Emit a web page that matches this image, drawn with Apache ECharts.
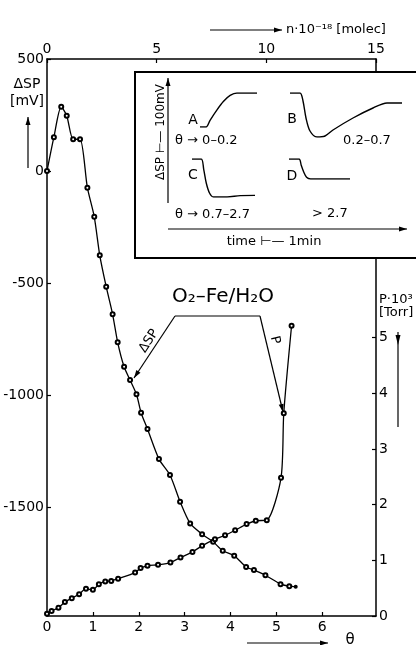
<!DOCTYPE html>
<html lang="en">
<head>
  <meta charset="UTF-8">
  <title>O2-Fe/H2O</title>
  <script src="https://cdn.jsdelivr.net/npm/echarts@6/dist/echarts.min.js"></script>
  <style>
    * { margin: 0; padding: 0; }
    body { background: #fff; }
    #main { width: 416px; height: 645px; }
  </style>
</head>
<body>
  <div id="main"></div>
  <script>
    // main curves, theta = coverage
    var dspTheta = [0, 0.15, 0.31, 0.43, 0.57, 0.72, 0.88, 1.03, 1.15, 1.29, 1.43, 1.54, 1.68, 1.81, 1.95, 2.05, 2.19, 2.44, 2.68, 2.90, 3.12, 3.38, 3.62, 3.83, 4.08, 4.34, 4.51, 4.76, 5.09, 5.28, 5.42]
    var dspValues = [0, 151, 287, 247, 142, 142, -74, -204, -376, -516, -639, -764, -873, -932, -996, -1078, -1151, -1285, -1356, -1475, -1572, -1620, -1654, -1694, -1716, -1766, -1780, -1803, -1843, -1852, -1855]

    var pTheta = [0, 0.10, 0.25, 0.39, 0.54, 0.70, 0.85, 1.00, 1.13, 1.27, 1.40, 1.55, 1.92, 2.04, 2.19, 2.42, 2.69, 2.91, 3.17, 3.38, 3.66, 3.88, 4.10, 4.35, 4.55, 4.79, 5.10, 5.16, 5.33]
    var pValues = [0.04, 0.09, 0.15, 0.25, 0.32, 0.39, 0.49, 0.47, 0.57, 0.62, 0.63, 0.67, 0.78, 0.86, 0.90, 0.92, 0.96, 1.05, 1.15, 1.26, 1.38, 1.45, 1.54, 1.65, 1.71, 1.72, 2.48, 3.64, 5.21]

    // tick labels
    var thetaTicks = [0, 1, 2, 3, 4, 5, 6]
    var dspTicks = [500, 0, -500, -1000, -1500]
    var pTicks = [0, 1, 2, 3, 4, 5]

    // inset transients: time [s], dSP [mV]
    var curveA_t = [0, 24, 40, 67, 93, 120, 147, 227]
    var curveA_mv = [0, 0, 33, 83, 125, 155, 167, 167]
    var curveB_t = [0, 40, 52, 64, 80, 108, 140, 172, 252, 332, 388, 448]
    var curveB_mv = [0, 0, -40, -125, -190, -220, -215, -185, -125, -75, -50, -50]
    var curveC_t = [0, 37, 47, 57, 70, 86, 140, 193, 252]
    var curveC_mv = [0, 0, -53, -120, -170, -190, -190, -183, -182]
    var curveD_t = [0, 40, 49, 59, 70, 86, 243]
    var curveD_mv = [0, 0, -32, -65, -90, -98, -98]

    var FONT = 'DejaVu Sans'
    var black = '#000'

    function pairs(xs, ys) {
      return xs.map(function (x, i) { return [x, ys[i]] })
    }

    function arrow(x1, y1, x2, y2, z) {
      var a = Math.atan2(y2 - y1, x2 - x1)
      var L = 8, W = 2.5
      var bx = x2 - L * Math.cos(a), by = y2 - L * Math.sin(a)
      return [
        { type: 'line', z: z, shape: { x1: x1, y1: y1, x2: x2, y2: y2 }, style: { stroke: black, lineWidth: 1.2 } },
        { type: 'polygon', z: z, shape: { points: [[x2, y2], [bx - W * Math.sin(a), by + W * Math.cos(a)], [bx + W * Math.sin(a), by - W * Math.cos(a)]] }, style: { fill: black } }
      ]
    }

    function txt(x, y, s, size, opts) {
      opts = opts || {}
      return {
        type: 'text', x: x, y: y, z: opts.z || 30, rotation: opts.rot || 0,
        style: { text: s, fontFamily: FONT, fontSize: size, fill: black, align: opts.align || 'center', verticalAlign: 'middle' }
      }
    }

    var plain = function (v) { return String(v) }
    var axisFont = { color: black, fontFamily: FONT, fontSize: 14, formatter: plain }
    var axLine = { onZero: false, lineStyle: { color: black, width: 1.5 } }
    var tick = { inside: true, length: 4, lineStyle: { color: black, width: 1.2 } }

    function hiddenAxis(grid, min, max) {
      return { type: 'value', gridIndex: grid, min: min, max: max, show: false }
    }

    var dspData = pairs(dspTheta, dspValues)
    dspData[dspData.length - 1] = { value: dspData[dspData.length - 1], symbol: 'circle' }

    var insetLine = function (grid, data) {
      return {
        type: 'line', xAxisIndex: grid + 1, yAxisIndex: grid + 1, data: data, z: 40,
        smooth: 0.3, showSymbol: false, lineStyle: { color: black, width: 1.4 }
      }
    }

    // decorations
    var graphics = []
    graphics.push({ type: 'rect', z: 10, shape: { x: 135, y: 72, width: 290, height: 186 }, style: { fill: '#fff', stroke: black, lineWidth: 2 } })
    graphics = graphics.concat(arrow(168, 203, 168, 78, 30))
    graphics = graphics.concat(arrow(168, 229, 407, 229, 30))
    graphics.push(txt(161, 132, 'ΔSP ⊢— 100mV', 12, { rot: Math.PI / 2 }))
    graphics.push(txt(274, 242, 'time ⊢— 1min', 13))
    graphics.push(txt(193, 120, 'A', 14))
    graphics.push(txt(292, 119, 'B', 14))
    graphics.push(txt(193, 175, 'C', 14))
    graphics.push(txt(292, 176, 'D', 14))
    graphics.push(txt(175, 141, 'θ → 0–0.2', 13, { align: 'left' }))
    graphics.push(txt(343, 141, '0.2–0.7', 13, { align: 'left' }))
    graphics.push(txt(175, 215, 'θ → 0.7–2.7', 13, { align: 'left' }))
    graphics.push(txt(312, 214, '> 2.7', 13, { align: 'left' }))

    graphics.push(txt(223, 297, 'O₂–Fe/H₂O', 20))
    graphics.push({ type: 'polyline', z: 30, shape: { points: [[175, 316], [260, 316]] }, style: { stroke: black, lineWidth: 1.2, fill: null } })
    graphics = graphics.concat(arrow(175, 316, 134, 378, 30))
    graphics = graphics.concat(arrow(260, 316, 283, 412, 30))
    graphics.push(txt(149, 341, 'ΔSP', 13, { rot: 57 * Math.PI / 180 }))
    graphics.push(txt(275, 340, 'P', 13, { rot: -77 * Math.PI / 180 }))

    graphics.push(txt(27, 84, 'ΔSP', 14))
    graphics.push(txt(27, 101, '[mV]', 14))
    graphics = graphics.concat(arrow(28, 168, 28, 117, 30))
    graphics.push(txt(379, 300, 'P·10³', 13, { align: 'left' }))
    graphics.push(txt(379, 313, '[Torr]', 13, { align: 'left' }))
    graphics.push({ type: 'line', z: 30, shape: { x1: 398, y1: 332, x2: 398, y2: 427 }, style: { stroke: black, lineWidth: 1.2 } })
    graphics.push({ type: 'polygon', z: 30, shape: { points: [[398, 345], [395.5, 335], [400.5, 335]] }, style: { fill: black } })
    graphics = graphics.concat(arrow(210, 30, 282, 30, 30))
    graphics.push(txt(286, 30, 'n·10⁻¹⁸ [molec]', 13, { align: 'left' }))
    graphics = graphics.concat(arrow(247, 643, 328, 643, 30))
    graphics.push(txt(350, 640, 'θ', 15))

    var chart = echarts.init(document.getElementById('main'))
    var option = {
      animation: false,
      backgroundColor: '#fff',
      grid: [
        { left: 47, right: 40, top: 59, bottom: 29 },
        { left: 200, top: 93, width: 57, height: 34 },
        { left: 290, top: 93, width: 112, height: 44 },
        { left: 192, top: 159, width: 63, height: 38 },
        { left: 289, top: 159, width: 61, height: 20 }
      ],
      xAxis: [
        {
          type: 'value', gridIndex: 0, position: 'bottom', min: 0, max: 7.17,
          axisLine: axLine, axisTick: Object.assign({ customValues: thetaTicks }, tick),
          axisLabel: Object.assign({ customValues: thetaTicks, margin: 4 }, axisFont), splitLine: { show: false }
        },
        {
          type: 'value', gridIndex: 0, position: 'top', min: 0, max: 15, interval: 5,
          axisLine: axLine, axisTick: tick,
          axisLabel: Object.assign({ margin: 3 }, axisFont), splitLine: { show: false }
        },
        hiddenAxis(1, 0, 227), hiddenAxis(2, 0, 448), hiddenAxis(3, 0, 252), hiddenAxis(4, 0, 243)
      ],
      yAxis: [
        {
          type: 'value', gridIndex: 0, position: 'left', min: -1985, max: 500,
          axisLine: axLine, axisTick: Object.assign({ customValues: dspTicks }, tick),
          axisLabel: Object.assign({ customValues: dspTicks, margin: 3 }, axisFont), splitLine: { show: false }
        },
        {
          type: 'value', gridIndex: 0, position: 'right', min: 0, max: 10,
          axisLine: axLine, axisTick: Object.assign({ customValues: pTicks }, tick),
          axisLabel: Object.assign({ customValues: pTicks, margin: 3 }, axisFont), splitLine: { show: false }
        },
        hiddenAxis(1, 0, 167), hiddenAxis(2, -220, 0), hiddenAxis(3, -190, 0), hiddenAxis(4, -98, 0)
      ],
      series: [
        {
          name: 'ΔSP', type: 'line', xAxisIndex: 0, yAxisIndex: 0, data: dspData,
          smooth: 0.25, symbol: 'emptyCircle', symbolSize: 4,
          itemStyle: { color: black, borderWidth: 1 }, lineStyle: { color: black, width: 1.3 }
        },
        {
          name: 'P', type: 'line', xAxisIndex: 0, yAxisIndex: 1, data: pairs(pTheta, pValues),
          smooth: 0.25, symbol: 'emptyCircle', symbolSize: 4,
          itemStyle: { color: black, borderWidth: 1 }, lineStyle: { color: black, width: 1.3 }
        },
        insetLine(1, pairs(curveA_t, curveA_mv)),
        insetLine(2, pairs(curveB_t, curveB_mv)),
        insetLine(3, pairs(curveC_t, curveC_mv)),
        insetLine(4, pairs(curveD_t, curveD_mv))
      ],
      graphic: { elements: graphics }
    }
    chart.setOption(option)
  </script>
</body>
</html>
